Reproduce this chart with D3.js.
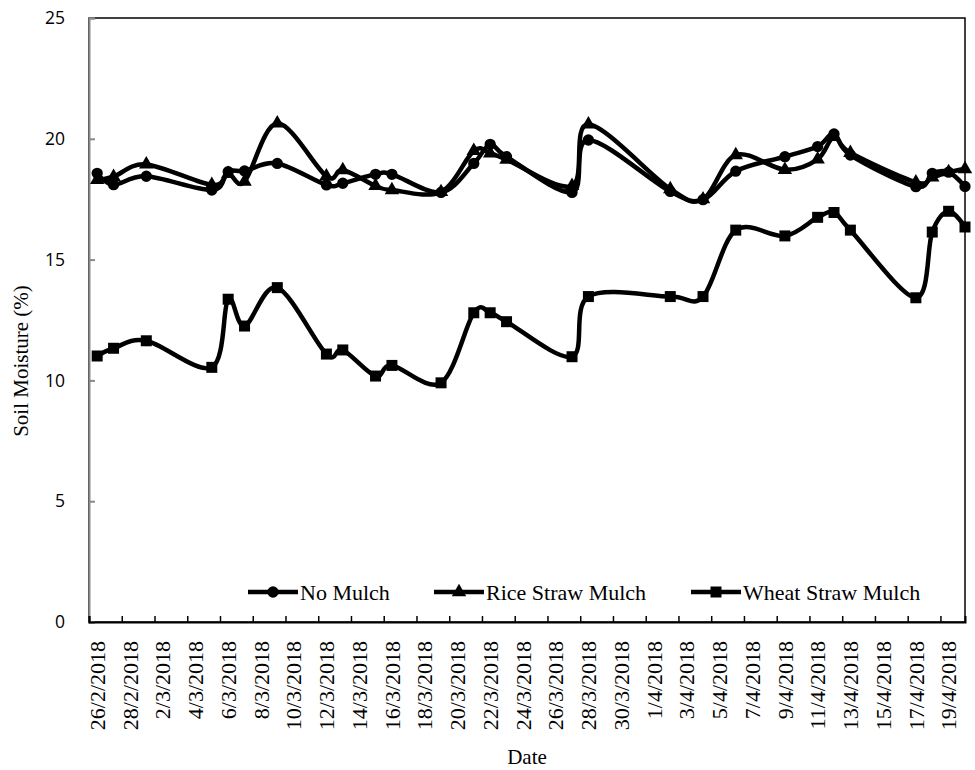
<!DOCTYPE html>
<html>
<head>
<meta charset="utf-8">
<script src="https://cdn.jsdelivr.net/npm/d3@7"></script>
<style>
  html, body { margin: 0; padding: 0; background: #fff; }
  svg { display: block; }
</style>
</head>
<body>
<svg id="chart" width="975" height="770"></svg>
<script>
// ---- data ----
const dates = ["2018-02-26","2018-02-27","2018-03-01","2018-03-05","2018-03-06","2018-03-07","2018-03-09",
  "2018-03-12","2018-03-13","2018-03-15","2018-03-16","2018-03-19","2018-03-21","2018-03-22","2018-03-23",
  "2018-03-27","2018-03-28","2018-04-02","2018-04-04","2018-04-06","2018-04-09","2018-04-11","2018-04-12",
  "2018-04-13","2018-04-17","2018-04-18","2018-04-19","2018-04-20"];
const noMulch = [18.57,18.10,18.45,17.88,18.64,18.67,18.98,18.09,18.16,18.53,18.53,17.78,18.98,19.77,19.26,
  17.78,19.95,17.82,17.48,18.66,19.26,19.68,20.20,19.33,18.02,18.57,18.62,18.03];
const riceStraw = [18.30,18.43,18.94,18.09,18.55,18.23,20.64,18.45,18.71,18.05,17.88,17.80,19.50,19.40,19.14,
  18.05,20.60,17.92,17.50,19.33,18.72,19.15,20.08,19.42,18.20,18.40,18.62,18.75];
const wheatStraw = [11.01,11.33,11.64,10.54,13.36,12.25,13.84,11.09,11.26,10.18,10.62,9.90,12.80,12.80,12.43,
  10.98,13.47,13.47,13.47,16.22,15.98,16.75,16.95,16.22,13.42,16.14,17.00,16.35];
const seriesNames = ["No Mulch","Rice Straw Mulch","Wheat Straw Mulch"];
const xTickLabels = ["26/2/2018","28/2/2018","2/3/2018","4/3/2018","6/3/2018","8/3/2018","10/3/2018",
  "12/3/2018","14/3/2018","16/3/2018","18/3/2018","20/3/2018","22/3/2018","24/3/2018","26/3/2018",
  "28/3/2018","30/3/2018","1/4/2018","3/4/2018","5/4/2018","7/4/2018","9/4/2018","11/4/2018",
  "13/4/2018","15/4/2018","17/4/2018","19/4/2018"];
const yTicks = [0,5,10,15,20,25];

// ---- layout ----
const svg = d3.select("#chart");
const pLeft = 89, pRight = 965, pTop = 18, pBottom = 622;
const parseISO = d3.utcParse("%Y-%m-%d");
const parseLabel = d3.utcParse("%d/%m/%Y");
const HALF = 12 * 3600 * 1000;

const x = d3.scaleUtc()
  .domain([new Date(parseISO("2018-02-26").getTime() - HALF), parseISO("2018-04-20")])
  .range([pLeft, pRight]);
const y = d3.scaleLinear().domain([0, 25]).range([pBottom, pTop]);

const serif = "'Liberation Serif','Times New Roman',serif";

// plot area border
svg.append("rect")
  .attr("x", pLeft).attr("y", pTop).attr("width", pRight - pLeft).attr("height", pBottom - pTop)
  .attr("fill", "none").attr("stroke", "#000").attr("stroke-width", 1.5);

// y axis (gray)
const yAxis = svg.append("g").attr("transform", `translate(${pLeft},0)`)
  .call(d3.axisLeft(y).tickValues(yTicks).tickSize(-6).tickPadding(24).tickFormat(d3.format("d")));
yAxis.select(".domain").attr("stroke", "#8a8a8a").attr("stroke-width", 2);
yAxis.selectAll(".tick line").attr("stroke", "#8a8a8a").attr("stroke-width", 2);
yAxis.selectAll(".tick text")
  .attr("font-family", "'Open Sans',sans-serif").attr("font-size", 17.5).attr("fill", "#000");

// x axis
const tickDates = xTickLabels.map(s => parseLabel(s));
const xAxis = svg.append("g").attr("transform", `translate(0,${pBottom})`)
  .call(d3.axisBottom(x).tickValues(tickDates.map(d => new Date(d.getTime() - HALF)))
    .tickSize(-6).tickFormat(""));
xAxis.select(".domain").attr("stroke", "#000").attr("stroke-width", 2);
xAxis.selectAll(".tick line").attr("stroke", "#000").attr("stroke-width", 1.5);

svg.append("g").selectAll("text").data(xTickLabels).join("text")
  .attr("transform", (d, i) => `translate(${x(tickDates[i])},641) rotate(-90)`)
  .attr("text-anchor", "end").attr("dy", "0.35em")
  .attr("font-family", serif).attr("font-size", 22).attr("fill", "#000")
  .text(d => d);

// axis titles
svg.append("text").attr("x", (pLeft + pRight) / 2).attr("y", 764)
  .attr("text-anchor", "middle").attr("font-family", serif).attr("font-size", 21).text("Date");
svg.append("text").attr("transform", `translate(28,361) rotate(-90)`)
  .attr("text-anchor", "middle").attr("font-family", serif).attr("font-size", 21).text("Soil Moisture (%)");

// series
const symbols = [d3.symbolCircle, d3.symbolTriangle, d3.symbolSquare];
const symSizes = [100, 90, 121];
const allSeries = [noMulch, riceStraw, wheatStraw];
const line = d3.line().x(d => x(d.date)).y(d => y(d.v)).curve(d3.curveCardinal.tension(0));

allSeries.forEach((vals, si) => {
  const pts = vals.map((v, i) => ({ date: parseISO(dates[i]), v }));
  svg.append("path").datum(pts).attr("d", line)
    .attr("fill", "none").attr("stroke", "#000").attr("stroke-width", 4.5).attr("stroke-linejoin", "round");
  svg.append("g").selectAll("path").data(pts).join("path")
    .attr("transform", d => `translate(${x(d.date)},${y(d.v)})`)
    .attr("d", d3.symbol().type(symbols[si]).size(symSizes[si]))
    .attr("fill", "#000");
});

// legend
const legendX = [248, 434, 691];
const legendY = 592;
seriesNames.forEach((name, i) => {
  const g = svg.append("g").attr("transform", `translate(${legendX[i]},${legendY})`);
  g.append("line").attr("x1", 0).attr("x2", 50).attr("y1", 0).attr("y2", 0)
    .attr("stroke", "#000").attr("stroke-width", 4.5);
  g.append("path").attr("transform", "translate(25,0)")
    .attr("d", d3.symbol().type(symbols[i]).size(symSizes[i])).attr("fill", "#000");
  g.append("text").attr("x", 52).attr("y", 0).attr("dy", "0.35em")
    .attr("font-family", serif).attr("font-size", 22).text(name);
});
</script>
</body>
</html>
